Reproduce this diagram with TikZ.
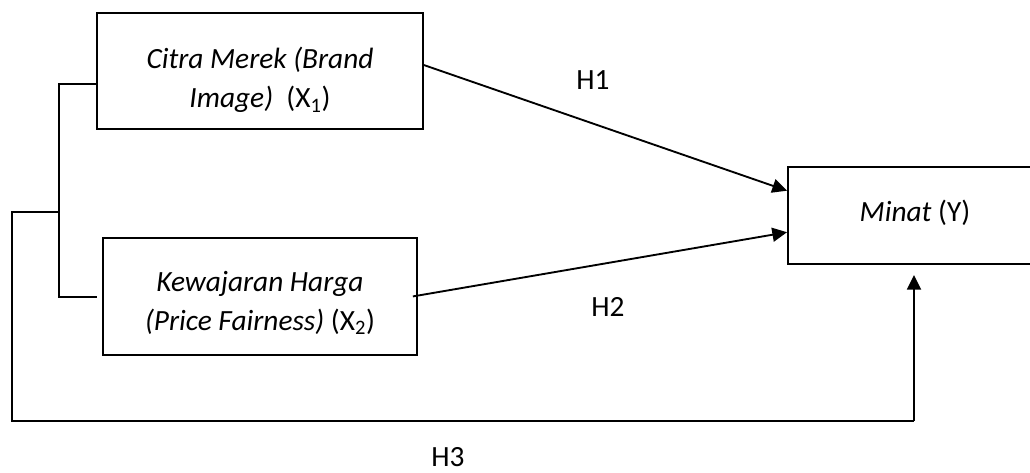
\documentclass[tikz,border=0pt]{standalone}
\usepackage{fontspec}
\setmainfont{Carlito}
\usetikzlibrary{arrows.meta,calc}
\begin{document}
\begin{tikzpicture}[x=0.75pt,y=-0.75pt,
  box/.style={draw,line width=1.4pt,inner sep=0pt,anchor=north west},
  lbl/.style={font=\fontsize{22}{29.5}\selectfont,align=center,inner sep=0pt},
  conn/.style={line width=1.4pt},
  arr/.style={line width=1.4pt,-{Triangle[length=11pt,width=10.5pt]}}]
\useasboundingbox (0,0) rectangle (1030,473);
\fill[white] (0,0) rectangle (1030,473);
\begin{scope}
\clip (0,0) rectangle (1030,473);
% boxes
\node[box,minimum width=326*0.75pt,minimum height=116*0.75pt] (b1) at (96,12) {};
\node[box,minimum width=314*0.75pt,minimum height=117*0.75pt] (b2) at (102,237) {};
\node[box,minimum width=270*0.75pt,minimum height=97*0.75pt] (y) at (787,166) {};
\end{scope}
% texts
\node[lbl] (t1) at (260,80) {\itshape Citra Merek (Brand\\ {\itshape Image)}\ \ (X\textsubscript{1})};
\node[lbl] (t2) at (260,303) {\itshape Kewajaran Harga\\ {\itshape (Price Fairness)} (X\textsubscript{2})};
\node[lbl] (ty) at (915,213) {\textit{Minat} (Y)};
\node[lbl] (h1) at (593,80) {H1};
\node[lbl] (h2) at (608,307) {H2};
\node[lbl,text depth=0pt] (h3) at (448,457) {H3};
% bracket connectors
\coordinate (ja) at (59,84);
\coordinate (jb) at (59,297);
\coordinate (jc) at (97,297);
\coordinate (jm) at (59,212);
\coordinate (jd) at (12,212);
\coordinate (je) at (12,421);
\coordinate (jf) at (914,421);
\coordinate (jt) at (914,275);
\draw[conn] (b1.west |- ja) -- (ja) -- (jb) -- (jc);
\draw[conn] (jm) -- (jd) -- (je) -- (jf);
\draw[arr] (jf) -- (jt);
% arrows
\draw[arr] ($(b1.north east)!0.45!(b1.south east)$) -- ($(y.north west)!0.25!(y.south west)$);
\draw[arr] ($(b2.east)+(-5,0)$) -- ($(y.north west)!0.67!(y.south west)$);
\end{tikzpicture}
\end{document}
